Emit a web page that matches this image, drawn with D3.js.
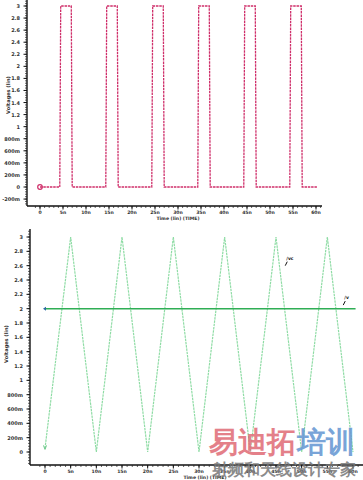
<!DOCTYPE html>
<html>
<head>
	<meta charset="utf-8">
	<script src="https://d3js.org/d3.v7.min.js"></script>
	<title>pulse and triangle</title>
	<style>
		body { margin: 0; background: #fff; }
		text { font-family: "DejaVu Sans", sans-serif; }
	</style>
</head>
<body>
	<div id="chart"></div>

	<script type="text/javascript">

		// time ticks (ns) shared by both plots
		var timeTicks = [0, 5, 10, 15, 20, 25, 30, 35, 40, 45, 50, 55, 60];
		var voltTicksTop = [-0.2, 0, 0.2, 0.4, 0.6, 0.8, 1, 1.2, 1.4, 1.6, 1.8, 2, 2.2, 2.4, 2.6, 2.8, 3];
		var voltTicksBottom = [0, 0.2, 0.4, 0.6, 0.8, 1, 1.2, 1.4, 1.6, 1.8, 2, 2.2, 2.4, 2.6, 2.8, 3];

		// pulse wave, time in ns, value in V
		var pulseT = [0, 4.3, 4.5, 6.8, 7.0, 14.3, 14.5, 16.8, 17.0, 24.3, 24.5, 26.8, 27.0,
		              34.3, 34.5, 36.8, 37.0, 44.3, 44.5, 46.8, 47.0, 54.3, 54.5, 56.8, 57.0, 60.3];
		var pulseV = [0, 0, 3, 3, 0, 0, 3, 3, 0, 0, 3, 3, 0,
		              0, 3, 3, 0, 0, 3, 3, 0, 0, 3, 3, 0, 0];

		// triangle carrier
		var triT = [0, 5, 10, 15, 20, 25, 30, 35, 40, 45, 50, 55, 60];
		var triV = [0.05, 3, 0, 3, 0, 3, 0, 3, 0, 3, 0, 3, 0];

		// reference level
		var refT = [0, 60.5];
		var refV = [2, 2];

		var svg = d3.select("#chart").append("svg")
				.attr("width", 363)
				.attr("height", 480);

		function fmt(v){
			v = Math.round(v*1000)/1000;
			if (v === 0) return "0";
			if (Math.abs(v) < 1) return Math.round(v*1000) + "m";
			return String(v);
		}

		function drawAxes(xs, ys, axisX, axisY, xEnd, yTop, vticks){
			var g = svg.append("g");
			// y axis line
			g.append("line").attr("x1", axisX).attr("x2", axisX)
				.attr("y1", yTop).attr("y2", axisY)
				.attr("stroke", "#111").attr("stroke-width", 1.4);
			// minor y ticks
			var minor = d3.range(Math.ceil(ys.invert(axisY)/0.04), Math.floor(ys.invert(yTop)/0.04)+1).map(function(k){ return k*0.04; });
			g.selectAll(".ymin").data(minor).enter().append("line")
				.attr("x1", axisX-2).attr("x2", axisX)
				.attr("y1", function(d){ return ys(d); }).attr("y2", function(d){ return ys(d); })
				.attr("stroke", "#222").attr("stroke-width", 0.7);
			g.selectAll(".ymaj").data(vticks).enter().append("line")
				.attr("x1", axisX-3.5).attr("x2", axisX)
				.attr("y1", function(d){ return ys(d); }).attr("y2", function(d){ return ys(d); })
				.attr("stroke", "#111").attr("stroke-width", 1);
			g.selectAll(".ylab").data(vticks).enter().append("text")
				.attr("x", axisX-7).attr("y", function(d){ return ys(d)+2; })
				.attr("text-anchor", "end").attr("font-size", 5).attr("font-weight", "bold")
				.attr("fill", "#333").text(fmt);

			// x axis line
			g.append("line").attr("x1", axisX).attr("x2", xEnd)
				.attr("y1", axisY).attr("y2", axisY)
				.attr("stroke", "#111").attr("stroke-width", 1.4);
			var xminor = d3.range(-1, 62);
			g.selectAll(".xmin").data(xminor.filter(function(d){ return xs(d) > axisX && xs(d) < xEnd; })).enter().append("line")
				.attr("x1", function(d){ return xs(d); }).attr("x2", function(d){ return xs(d); })
				.attr("y1", axisY).attr("y2", axisY+2)
				.attr("stroke", "#222").attr("stroke-width", 0.7);
			g.selectAll(".xmaj").data(timeTicks).enter().append("line")
				.attr("x1", function(d){ return xs(d); }).attr("x2", function(d){ return xs(d); })
				.attr("y1", axisY).attr("y2", axisY+3.5)
				.attr("stroke", "#111").attr("stroke-width", 1);
			g.selectAll(".xlab").data(timeTicks).enter().append("text")
				.attr("x", function(d){ return xs(d); }).attr("y", axisY+7.5)
				.attr("text-anchor", "middle").attr("font-size", 4.6).attr("font-weight", "bold")
				.attr("fill", "#333").text(function(d){ return d === 0 ? "0" : d + "n"; });
			return g;
		}

		/* top plot: pulse */
		var x1 = d3.scaleLinear().domain([0, 60]).range([40, 316]);
		var y1 = d3.scaleLinear().domain([0, 3]).range([187, 6]);
		var g1 = drawAxes(x1, y1, 27, 206, 322, 0, voltTicksTop);
		g1.append("text").attr("x", 178).attr("y", 220).attr("text-anchor", "middle")
			.attr("font-size", 4.6).attr("font-weight", "bold").attr("fill", "#333").text("Time (lin) (TIME)");
		g1.append("text").attr("transform", "translate(10,95) rotate(-90)").attr("text-anchor", "middle")
			.attr("font-size", 5).attr("font-weight", "bold").attr("fill", "#333").text("Voltages (lin)");

		var pulse = pulseT.map(function(t, i){ return [t, pulseV[i]]; });
		var line1 = d3.line().x(function(d){ return x1(d[0]); }).y(function(d){ return y1(d[1]); });
		svg.append("path").datum(pulse).attr("d", line1)
			.attr("fill", "none").attr("stroke", "#cf2f6a").attr("stroke-width", 1.3)
			.attr("stroke-dasharray", "2.5,0.8");
		svg.append("circle").attr("cx", x1(0)).attr("cy", y1(0)).attr("r", 2.3)
			.attr("fill", "none").attr("stroke", "#cf2f6a").attr("stroke-width", 1.2);

		/* bottom plot: triangle + reference */
		var x2 = d3.scaleLinear().domain([0, 60]).range([45, 353]);
		var y2 = d3.scaleLinear().domain([0, 3]).range([452, 237]);
		var g2 = drawAxes(x2, y2, 30, 465, 363, 229, voltTicksBottom);
		g2.append("text").attr("x", 205).attr("y", 478.5).attr("text-anchor", "middle")
			.attr("font-size", 4.6).attr("font-weight", "bold").attr("fill", "#333").text("Time (lin) (TIME)");
		g2.append("text").attr("transform", "translate(8,344) rotate(-90)").attr("text-anchor", "middle")
			.attr("font-size", 5).attr("font-weight", "bold").attr("fill", "#333").text("Voltages (lin)");

		var line2 = d3.line().x(function(d){ return x2(d[0]); }).y(function(d){ return y2(d[1]); });
		var tri = triT.map(function(t, i){ return [t, triV[i]]; });
		svg.append("path").datum(tri).attr("d", line2)
			.attr("fill", "none").attr("stroke", "#8fdca5").attr("stroke-width", 1.2)
			.attr("stroke-dasharray", "2.5,0.8");
		var ref = refT.map(function(t, i){ return [t, refV[i]]; });
		svg.append("path").datum(ref).attr("d", line2)
			.attr("fill", "none").attr("stroke", "#2fae55").attr("stroke-width", 1.5);
		svg.append("path").attr("d", "M" + (x2(0)-2) + "," + y2(2) + "l3,-2l0,4z").attr("fill", "#2a6aa0");
		svg.append("path").attr("d", "M" + (x2(0)-1.5) + "," + (y2(0.05)-3) + "l1.5,4l1.5,-4").attr("fill", "none").attr("stroke", "#6cc88a");

		// trace labels with marker ticks
		function traceLabel(t, v, txt, dx, dy){
			svg.append("line").attr("x1", x2(t)).attr("y1", y2(v)).attr("x2", x2(t)+2).attr("y2", y2(v)-4)
				.attr("stroke", "#111").attr("stroke-width", 1);
			svg.append("text").attr("x", x2(t)+dx).attr("y", y2(v)+dy).attr("font-size", 4.5)
				.attr("font-weight", "bold").attr("fill", "#111").text(txt);
		}
		traceLabel(46.8, 2.6, "/vc", 1, -6);
		traceLabel(58.1, 2.05, "/v", 1, -6);

		// watermark
		var wm = svg.append("g").attr("font-family", "'Noto Sans CJK SC'").attr("font-weight", "bold");
		wm.append("text").attr("x", 209).attr("y", 452).attr("font-size", 29).attr("fill", "#e2737d")
			.attr("opacity", 0.9).text("易迪拓");
		wm.append("text").attr("x", 297).attr("y", 452).attr("font-size", 29).attr("fill", "#6b9bd4")
			.attr("opacity", 0.9).text("培训");
		wm.append("text").attr("x", 212).attr("y", 475).attr("font-size", 15.8).attr("fill", "#777")
			.attr("opacity", 0.85).text("射频和天线设计专家");

	</script>
</body>
</html>
